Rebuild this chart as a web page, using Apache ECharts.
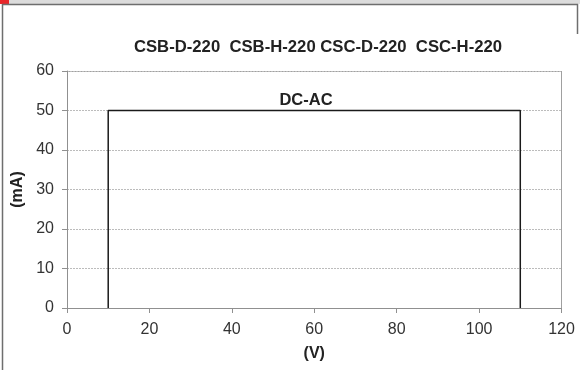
<!DOCTYPE html>
<html><head><meta charset="utf-8">
<script src="https://cdn.jsdelivr.net/npm/echarts@6/dist/echarts.min.js"></script>
<style>html,body{margin:0;padding:0;background:#fff}#c{width:580px;height:370px}</style>
</head><body><div id="c"></div>
<script>
var titleText = 'CSB-D-220  CSB-H-220 CSC-D-220  CSC-H-220';
var seriesName = 'DC-AC';
var voltage = [10, 10, 110, 110];
var current = [0, 50, 50, 0];
var xTicks = [0, 20, 40, 60, 80, 100, 120];
var yTicks = [0, 10, 20, 30, 40, 50, 60];
var xName = '(V)';
var yName = '(mA)';

var chart = echarts.init(document.getElementById('c'), null, {renderer: 'canvas'});
var font = 'Liberation Sans, Arial, sans-serif';
chart.setOption({
  animation: false,
  backgroundColor: '#fff',
  title: [
    {text: titleText, left: 313, top: 34, textAlign: 'center',
     textStyle: {fontFamily: font, fontSize: 16.7, fontWeight: 'bold', color: '#222'}},
    {text: seriesName, left: 301, top: 87, textAlign: 'center',
     textStyle: {fontFamily: font, fontSize: 16.5, fontWeight: 'bold', color: '#222'}}
  ],
  graphic: [
    {type: 'rect', shape: {x: 0, y: 0, width: 580, height: 4}, style: {fill: '#dcdcdc'}},
    {type: 'rect', shape: {x: 0, y: 0, width: 9, height: 4}, style: {fill: '#e8262a'}},
    {type: 'line', shape: {x1: 2, y1: 4.5, x2: 578, y2: 4.5}, style: {stroke: '#6e6e6e', lineWidth: 1.5}},
    {type: 'line', shape: {x1: 2.5, y1: 4, x2: 2.5, y2: 370}, style: {stroke: '#6e6e6e', lineWidth: 1.5}},
    {type: 'line', shape: {x1: 577.5, y1: 4, x2: 577.5, y2: 34}, style: {stroke: '#6e6e6e', lineWidth: 1.5}},
    {type: 'line', shape: {x1: 67, y1: 71.5, x2: 561.5, y2: 71.5}, style: {stroke: '#a0a0a0', lineWidth: 1}},
    {type: 'line', shape: {x1: 561.5, y1: 71, x2: 561.5, y2: 308}, style: {stroke: '#a0a0a0', lineWidth: 1}}
  ],
  grid: {left: 67, right: 18.5, top: 71, bottom: 62, containLabel: false},
  xAxis: {
    type: 'value', min: xTicks[0], max: xTicks[xTicks.length - 1], interval: 20,
    name: xName, nameLocation: 'middle', nameGap: 38,
    nameTextStyle: {fontFamily: font, fontSize: 16, fontWeight: 'bold', color: '#222'},
    axisLine: {show: true, lineStyle: {color: '#909090', width: 1}},
    axisTick: {show: true, length: 5, lineStyle: {color: '#909090'}},
    axisLabel: {fontFamily: font, fontSize: 16, color: '#333', margin: 14},
    splitLine: {show: false}
  },
  yAxis: {
    type: 'value', min: yTicks[0], max: yTicks[yTicks.length - 1], interval: 10,
    name: yName, nameLocation: 'middle', nameGap: 35, nameRotate: 90,
    nameTextStyle: {fontFamily: font, fontSize: 16, fontWeight: 'bold', color: '#222'},
    axisLine: {show: true, lineStyle: {color: '#909090', width: 1}},
    axisTick: {show: true, length: 5, lineStyle: {color: '#909090'}},
    axisLabel: {fontFamily: font, fontSize: 16, color: '#333', margin: 13},
    splitLine: {show: true, lineStyle: {color: '#bcbcbc', width: 1, type: [2, 1]}}
  },
  series: [{
    name: seriesName, type: 'line', symbol: 'none',
    data: voltage.map(function (v, i) { return [v, current[i]]; }),
    lineStyle: {color: '#1a1a1a', width: 1.5}
  }]
});
</script></body></html>
